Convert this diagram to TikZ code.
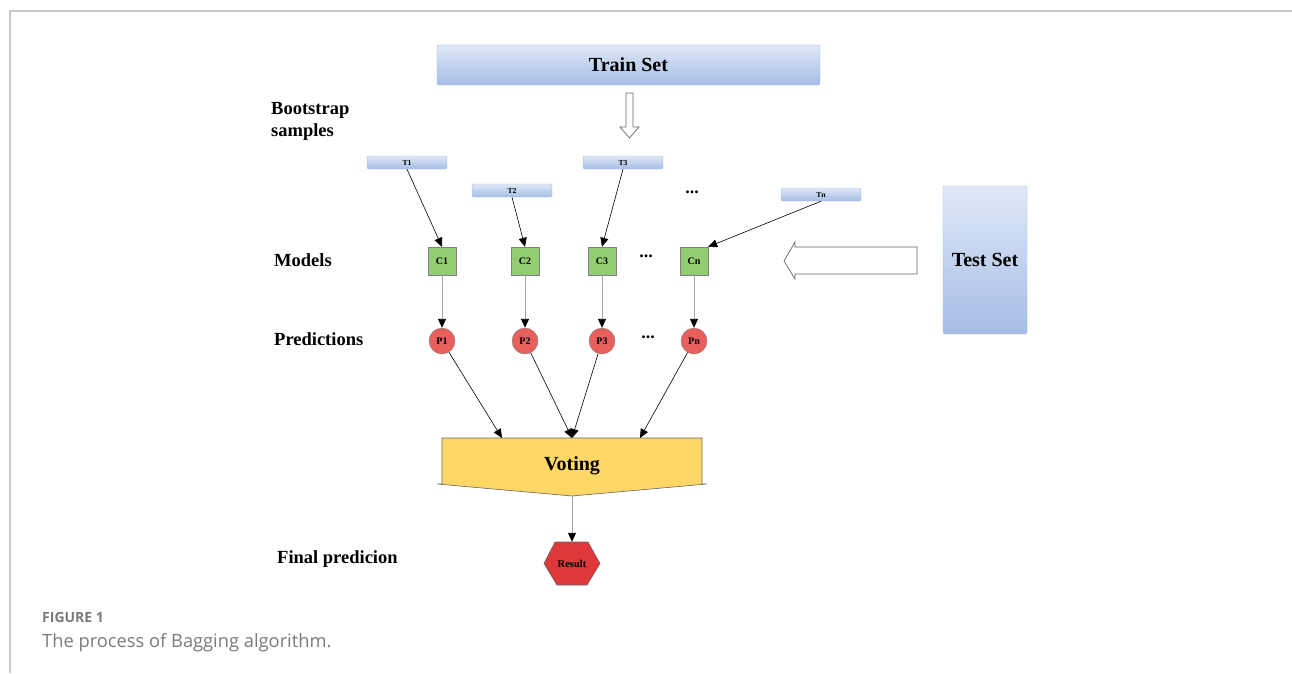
\documentclass[tikz,border=0pt]{standalone}
\usepackage{fontspec}
\setmainfont{Liberation Serif}
\newfontfamily\capfont{Open Sans}
\usetikzlibrary{shapes.geometric,arrows.meta}
\definecolor{boxtop}{HTML}{DFE8F7}
\definecolor{boxbot}{HTML}{A6BDE6}
\definecolor{boxline}{HTML}{A3B8DE}
\definecolor{cgreen}{HTML}{93CD72}
\definecolor{pred}{HTML}{E8605E}
\definecolor{rred}{HTML}{E0383A}
\definecolor{vyellow}{HTML}{FED767}
\definecolor{framegray}{HTML}{C8C8C8}
\definecolor{capgray}{HTML}{7A7A7A}
\tikzset{
  setbox/.style={draw=boxline, rounded corners=2pt, top color=boxtop, bottom color=boxbot, inner sep=0pt, font=\bfseries\fontsize{20}{22}\selectfont},
  tbox/.style={draw=boxline, rounded corners=2pt, top color=boxtop, bottom color=boxbot, minimum width=80pt, minimum height=13pt, inner sep=0pt, font=\bfseries\fontsize{7.7}{8}\selectfont},
  cbox/.style={draw=gray, fill=cgreen, minimum size=28pt, inner sep=0pt, font=\bfseries\fontsize{10}{11}\selectfont},
  pcirc/.style={draw=gray, fill=pred, circle, minimum size=26pt, inner sep=0pt, font=\bfseries\fontsize{10}{11}\selectfont},
  rowlabel/.style={anchor=west, align=left, inner sep=0pt, font=\bfseries\fontsize{18.5}{22}\selectfont},
  dots/.style={inner sep=0pt, font=\bfseries\fontsize{18}{18}\selectfont},
  arr/.style={-{Triangle[length=9pt,width=8pt]}, line width=0.6pt},
  garr/.style={draw=gray!70, line width=0.9pt, -{Triangle[length=9pt,width=8pt,color=black,fill=black]}},
  hollow/.style={draw=gray!80!black, fill=white, line width=0.7pt}
}
\begin{document}
\begin{tikzpicture}[x=1pt,y=-1pt]
\useasboundingbox (0,0) rectangle (1292,673);
% frame
\draw[framegray, line width=1.2pt] (10,673) -- (10,11) -- (1292,11);

% train set
\node[setbox, minimum width=383pt, minimum height=40pt] (train) at (628.5,65) {\raisebox{-2pt}{Train Set}};
\draw[hollow] (626,93) -- (633,93) -- (633,127) -- (639,127) -- (629.5,138) -- (620,127) -- (626,127) -- cycle;

% row labels
\node[rowlabel] (lboot) at (271,121.5) {Bootstrap\\samples};
\node[rowlabel] (lmod) at (274,260) {Models};
\node[rowlabel] (lpred) at (274,339) {Predictions};
\node[rowlabel] (lfin) at (277,559) {Final predicion};

% bootstrap samples
\node[tbox] (t1) at (407,162.5) {T1};
\node[tbox] (t2) at (512,190.5) {T2};
\node[tbox] (t3) at (623,162.5) {T3};
\node[tbox] (tn) at (821,194.5) {Tn};
\node[dots] (tdots) at (692,192) {...};

% models
\node[cbox] (c1) at (442,261) {C1};
\node[cbox] (c2) at (525,261) {C2};
\node[cbox] (c3) at (602,261) {C3};
\node[cbox] (cn) at (694,261) {Cn};
\node[dots] (cdots) at (646,256) {...};

% predictions
\node[pcirc] (p1) at (442,341) {P1};
\node[pcirc] (p2) at (525,341) {P2};
\node[pcirc] (p3) at (602,341) {P3};
\node[pcirc] (pn) at (694,341) {Pn};
\node[dots] (pdots) at (648,337) {...};

% test set
\node[setbox, minimum width=84pt, minimum height=148pt] (test) at (985,260) {Test Set};
\draw[hollow] (917,247) -- (917,274) -- (795,274) -- (795,279) -- (784,261) -- (795,242) -- (795,247) -- cycle;

% voting
\draw[draw=gray!80!black, fill=vyellow, line width=0.6pt] (442,438) -- (702,438) -- (702,484) -- (707,484) -- (572,496) -- (437,484) -- (442,484) -- cycle;
\node[inner sep=0pt, font=\bfseries\fontsize{20}{22}\selectfont] (vote) at (572,466) {Voting};
\coordinate (v1) at (502,438);
\coordinate (v2) at (572,438);
\coordinate (v3) at (640,438);
\coordinate (vb) at (572,496);

% result
\draw[draw=gray!80!black, fill=rred, line width=0.6pt] (544,563.5) -- (555,542) -- (588,542) -- (600,563.5) -- (587,585) -- (557,585) -- cycle;
\node[minimum width=56pt, minimum height=43pt, inner sep=0pt, font=\bfseries\fontsize{10.5}{11}\selectfont] (res) at (572,563.5) {Result};

% connectors
\draw[arr] (t1.south) -- (c1.north);
\draw[arr] (t2.south) -- (c2.north);
\draw[arr] (t3.south) -- (c3.north);
\draw[arr] (tn.south) -- (cn.north east);
\draw[garr] (c1) -- (p1);
\draw[garr] (c2) -- (p2);
\draw[garr] (c3) -- (p3);
\draw[garr] (cn) -- (pn);
\draw[arr] (p1) -- (v1);
\draw[arr] (p2) -- (v2);
\draw[arr] (p3) -- (v2);
\draw[arr] (pn) -- (v3);
\draw[garr] (vb) -- (res.north);

% caption
\node[anchor=base west, inner sep=0pt, text=capgray, font=\capfont\bfseries\fontsize{14}{15}\selectfont] (fig) at (42,622) {FIGURE 1};
\node[anchor=base west, inner sep=0pt, text=capgray, font=\capfont\fontsize{18.3}{19}\selectfont] (cap) at (42,647) {The process of Bagging algorithm.};
\end{tikzpicture}
\end{document}
